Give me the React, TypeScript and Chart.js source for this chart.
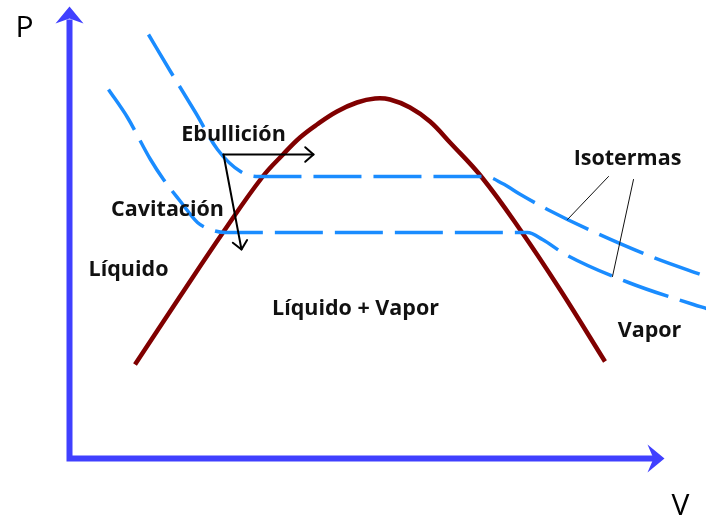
import React, { useEffect, useRef } from "react";
import { Chart, registerables } from "chart.js";

Chart.register(...registerables);

// Saturation dome (V, P)
const domeV = [6.55, 11.05, 15.35, 19.25, 21.35, 23.05, 24.75, 26.75, 28.75, 30.55, 32.05, 34.05, 36.05, 38.05, 41.25, 45.05, 49.05, 53.55];
const domeP = [9.4, 16.2, 22.6, 28.1, 30.4, 32.1, 33.4, 34.7, 35.6, 36.0, 35.9, 35.1, 33.7, 31.6, 28.1, 22.9, 16.9, 9.7];

// Upper isotherm (V, P)
const isoHighV = [7.9, 10.1, 12.6, 14.8, 17.1, 18.9, 41.6, 43.3, 45.1, 47.8, 51.9, 58.4, 63.7];
const isoHighP = [42.4, 38.7, 34.6, 30.9, 28.7, 28.2, 28.2, 27.5, 26.4, 24.9, 22.9, 20.1, 18.2];

// Lower isotherm (V, P)
const isoLowV = [3.9, 5.8, 8.1, 9.4, 11.1, 12.8, 14.1, 15.6, 45.8, 47.3, 49.6, 55.9, 62.4, 63.7];
const isoLowP = [36.9, 34.1, 29.9, 27.9, 25.7, 23.6, 22.9, 22.6, 22.6, 21.9, 20.4, 17.6, 15.4, 15.0];

// Axes (V, P): up the P axis, through the origin, along the V axis
const axisV = [0, 0, 58.5];
const axisP = [43.9, 0, 0];
const axisTipV = [0, 59.5];
const axisTipP = [45.2, 0];

// Text labels
const labelText = ["Ebullición", "Cavitación", "Líquido", "Líquido + Vapor", "Isotermas", "Vapor"];
const labelV = [16.4, 9.8, 5.9, 28.6, 55.8, 58.0];
const labelP = [32.4, 24.9, 18.9, 15.0, 30.0, 12.8];

// Axis titles
const axisTitleText = ["P", "V"];
const axisTitleV = [-4.5, 61.1];
const axisTitleP = [43.0, -4.8];

// Black arrows: start -> end
const arrowFromV = [15.4, 15.4];
const arrowFromP = [30.4, 30.4];
const arrowToV = [24.4, 17.2];
const arrowToP = [30.4, 20.9];

// Leader lines for "Isotermas"
const leaderFromV = [53.9, 56.4];
const leaderFromP = [28.2, 27.9];
const leaderToV = [49.8, 54.3];
const leaderToP = [23.9, 18.2];

const AXIS_COLOR = "#4040ff";

const pts = (xs: number[], ys: number[]) => xs.map((x, i) => ({ x, y: ys[i] }));

const overlayPlugin = {
  id: "overlay",
  afterDatasetsDraw(chart: any) {
    const ctx: CanvasRenderingContext2D = chart.ctx;
    const xs = chart.scales.x;
    const ys = chart.scales.y;
    const px = (v: number) => xs.getPixelForValue(v);
    const py = (p: number) => ys.getPixelForValue(p);

    ctx.save();

    // Axis arrowheads
    ctx.fillStyle = AXIS_COLOR;
    {
      const tx = px(axisTipV[0]);
      const ty = py(axisTipP[0]);
      ctx.beginPath();
      ctx.moveTo(tx, ty);
      ctx.lineTo(tx + 14, ty + 17);
      ctx.lineTo(tx, ty + 12);
      ctx.lineTo(tx - 14, ty + 17);
      ctx.closePath();
      ctx.fill();
    }
    {
      const tx = px(axisTipV[1]);
      const ty = py(axisTipP[1]);
      ctx.beginPath();
      ctx.moveTo(tx, ty);
      ctx.lineTo(tx - 17, ty - 14);
      ctx.lineTo(tx - 11, ty);
      ctx.lineTo(tx - 17, ty + 14);
      ctx.closePath();
      ctx.fill();
    }

    // Black arrows
    ctx.strokeStyle = "#000000";
    ctx.lineWidth = 2;
    ctx.lineCap = "round";
    ctx.lineJoin = "round";
    for (let i = 0; i < arrowFromV.length; i++) {
      const x0 = px(arrowFromV[i]);
      const y0 = py(arrowFromP[i]);
      const x1 = px(arrowToV[i]);
      const y1 = py(arrowToP[i]);
      ctx.beginPath();
      ctx.moveTo(x0, y0);
      ctx.lineTo(x1, y1);
      ctx.stroke();
      const ang = Math.atan2(y1 - y0, x1 - x0);
      const len = 11;
      const spread = 0.72;
      ctx.beginPath();
      ctx.moveTo(x1 - len * Math.cos(ang - spread), y1 - len * Math.sin(ang - spread));
      ctx.lineTo(x1, y1);
      ctx.lineTo(x1 - len * Math.cos(ang + spread), y1 - len * Math.sin(ang + spread));
      ctx.stroke();
    }

    // Leader lines
    ctx.lineWidth = 1;
    ctx.strokeStyle = "#111111";
    for (let i = 0; i < leaderFromV.length; i++) {
      ctx.beginPath();
      ctx.moveTo(px(leaderFromV[i]), py(leaderFromP[i]));
      ctx.lineTo(px(leaderToV[i]), py(leaderToP[i]));
      ctx.stroke();
    }

    // Labels
    ctx.fillStyle = "#111111";
    ctx.textAlign = "center";
    ctx.textBaseline = "middle";
    ctx.font = "bold 21.5px 'Open Sans', Lato, sans-serif";
    for (let i = 0; i < labelText.length; i++) {
      ctx.fillText(labelText[i], px(labelV[i]), py(labelP[i]));
    }

    // Axis titles
    ctx.fillStyle = "#000000";
    ctx.font = "30px 'Open Sans', Lato, sans-serif";
    for (let i = 0; i < axisTitleText.length; i++) {
      ctx.fillText(axisTitleText[i], px(axisTitleV[i]), py(axisTitleP[i]));
    }

    ctx.restore();
  },
};

export default function App() {
  const canvasRef = useRef<HTMLCanvasElement | null>(null);

  useEffect(() => {
    document.body.style.margin = "0";
    const canvas = canvasRef.current;
    if (!canvas) return;
    const chart = new Chart(canvas, {
      type: "line",
      data: {
        datasets: [
          {
            label: "Ejes",
            data: pts(axisV, axisP),
            borderColor: AXIS_COLOR,
            borderWidth: 6,
            borderCapStyle: "butt",
            borderJoinStyle: "miter",
            pointRadius: 0,
            tension: 0,
            fill: false,
          },
          {
            label: "Isoterma alta",
            data: pts(isoHighV, isoHighP),
            borderColor: "#1a8cff",
            borderWidth: 3.5,
            borderDash: [48, 12],
            cubicInterpolationMode: "monotone",
            pointRadius: 0,
            fill: false,
          },
          {
            label: "Isoterma baja",
            data: pts(isoLowV, isoLowP),
            borderColor: "#1a8cff",
            borderWidth: 3.5,
            borderDash: [48, 12],
            cubicInterpolationMode: "monotone",
            pointRadius: 0,
            fill: false,
          },
          {
            label: "Campana",
            data: pts(domeV, domeP),
            borderColor: "#800000",
            borderWidth: 4.5,
            tension: 0.4,
            pointRadius: 0,
            fill: false,
          },
        ],
      },
      options: {
        responsive: false,
        animation: false,
        devicePixelRatio: 1,
        layout: { padding: 0 },
        plugins: {
          legend: { display: false },
          tooltip: { enabled: false },
          title: { display: false },
        },
        scales: {
          x: { type: "linear", min: -6.95, max: 63.65, display: false },
          y: { type: "linear", min: -6.25, max: 45.85, display: false },
        },
      },
      plugins: [overlayPlugin],
    } as any);
    return () => chart.destroy();
  }, []);

  return (
    <div style={{ width: 706, height: 521, background: "#ffffff" }}>
      <canvas ref={canvasRef} width={706} height={521} style={{ display: "block", width: 706, height: 521 }} />
    </div>
  );
}
